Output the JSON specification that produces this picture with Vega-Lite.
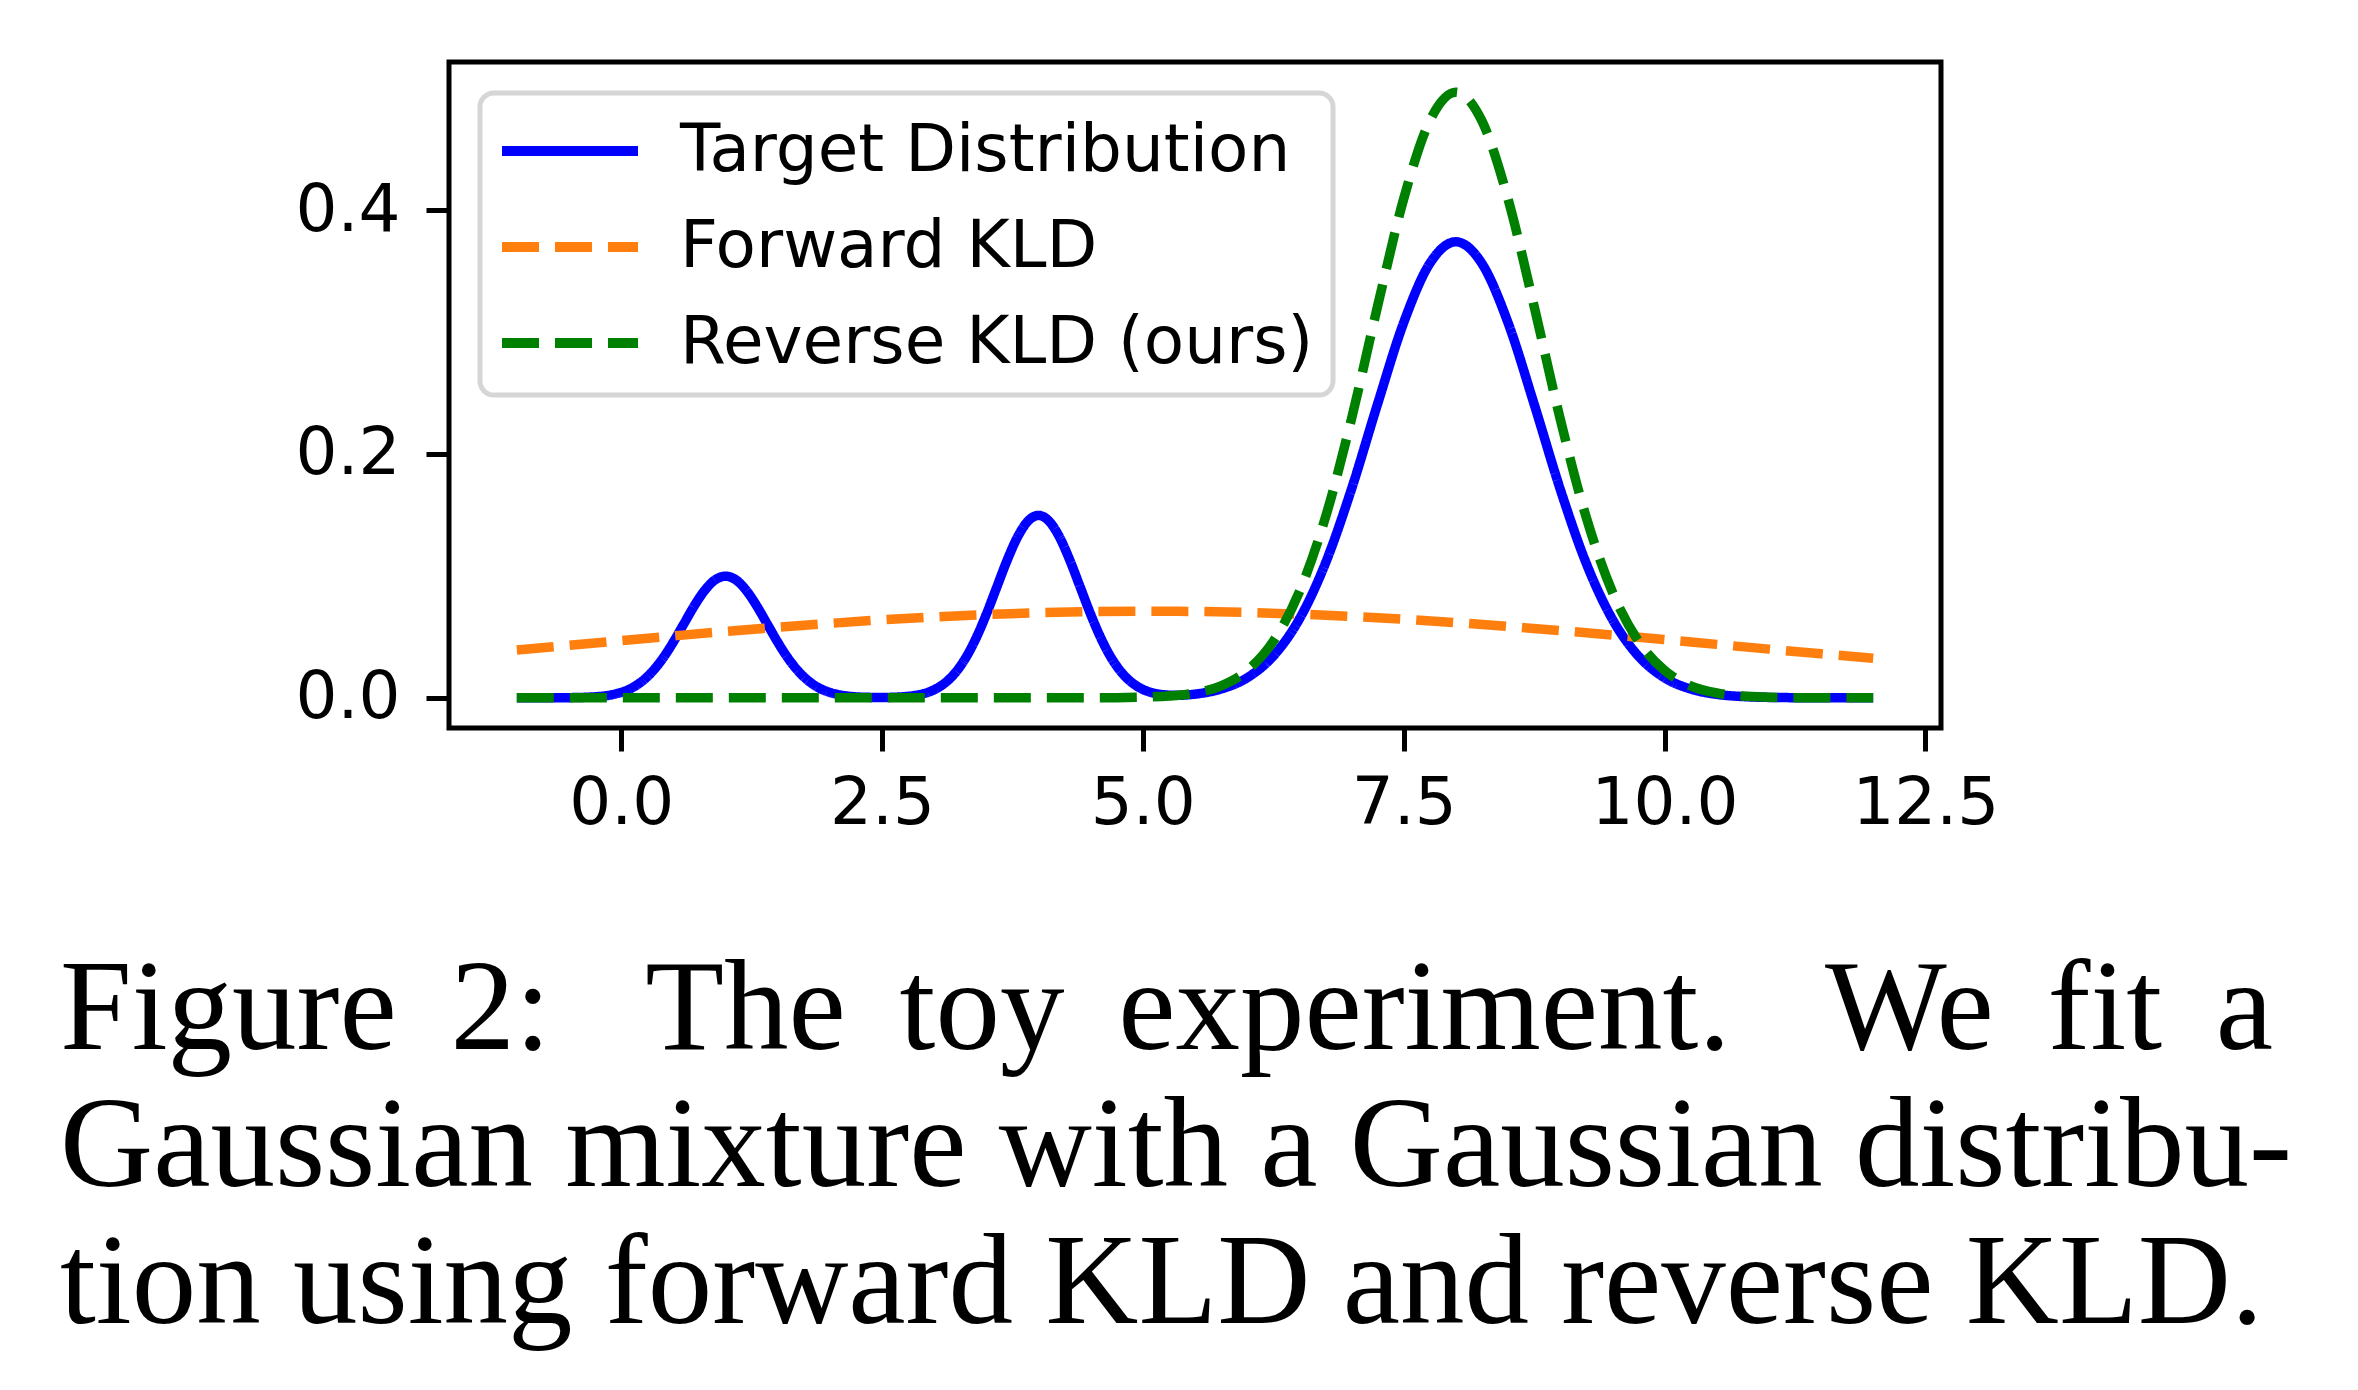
{
  "$schema": "https://vega.github.io/schema/vega-lite/v6.json",
  "autosize": {"type": "none"},
  "padding": {"left": 449, "top": 62, "right": 417, "bottom": 662},
  "width": 1492,
  "height": 666,
  "background": "white",
  "title": {
    "text": ["Figure\u2006 2:\u2002 The\u2006 toy\u2006 experiment.\u2002 We\u2006 fit\u2006 a", "Gaussian mixture with a Gaussian distribu-", "tion using forward KLD and reverse KLD."],
    "orient": "bottom",
    "anchor": "start",
    "frame": "group",
    "dx": -389,
    "offset": 111,
    "font": "Liberation Serif",
    "fontSize": 129,
    "fontWeight": "normal",
    "color": "black",
    "lineHeight": 137
  },
  "datasets": {
    "target": [
      {"x": -1, "y": 0}, {"x": -0.5, "y": 0.0001}, {"x": -0.2, "y": 0.0011}, {"x": -0.1, "y": 0.0023},
      {"x": 0, "y": 0.0044}, {"x": 0.1, "y": 0.0079}, {"x": 0.2, "y": 0.0135}, {"x": 0.3, "y": 0.0216},
      {"x": 0.4, "y": 0.0324}, {"x": 0.5, "y": 0.0457}, {"x": 0.6, "y": 0.0605}, {"x": 0.7, "y": 0.0753},
      {"x": 0.8, "y": 0.088}, {"x": 0.9, "y": 0.0967}, {"x": 1.0, "y": 0.0997}, {"x": 1.1, "y": 0.0967},
      {"x": 1.2, "y": 0.088}, {"x": 1.3, "y": 0.0753}, {"x": 1.4, "y": 0.0605}, {"x": 1.5, "y": 0.0457},
      {"x": 1.6, "y": 0.0324}, {"x": 1.7, "y": 0.0216}, {"x": 1.8, "y": 0.0135}, {"x": 1.9, "y": 0.0079},
      {"x": 2.0, "y": 0.0044}, {"x": 2.1, "y": 0.0023}, {"x": 2.2, "y": 0.0011}, {"x": 2.3, "y": 0.0005},
      {"x": 2.4, "y": 0.0003}, {"x": 2.5, "y": 0.0002}, {"x": 2.6, "y": 0.0004}, {"x": 2.7, "y": 0.0008},
      {"x": 2.8, "y": 0.0017}, {"x": 2.9, "y": 0.0034}, {"x": 3.0, "y": 0.0066}, {"x": 3.1, "y": 0.0119},
      {"x": 3.2, "y": 0.0203}, {"x": 3.3, "y": 0.0324}, {"x": 3.4, "y": 0.0486}, {"x": 3.5, "y": 0.0685},
      {"x": 3.6, "y": 0.0907}, {"x": 3.7, "y": 0.1129}, {"x": 3.8, "y": 0.132}, {"x": 3.9, "y": 0.145},
      {"x": 4.0, "y": 0.1496}, {"x": 4.1, "y": 0.145}, {"x": 4.2, "y": 0.132}, {"x": 4.3, "y": 0.1129},
      {"x": 4.4, "y": 0.0907}, {"x": 4.5, "y": 0.0685}, {"x": 4.6, "y": 0.0486}, {"x": 4.7, "y": 0.0324},
      {"x": 4.8, "y": 0.0204}, {"x": 4.9, "y": 0.0121}, {"x": 5.0, "y": 0.0069}, {"x": 5.1, "y": 0.0039},
      {"x": 5.2, "y": 0.0025}, {"x": 5.3, "y": 0.002}, {"x": 5.4, "y": 0.0022}, {"x": 5.5, "y": 0.003},
      {"x": 5.6, "y": 0.0042}, {"x": 5.75, "y": 0.0072}, {"x": 6.0, "y": 0.0164}, {"x": 6.25, "y": 0.0342},
      {"x": 6.5, "y": 0.0645}, {"x": 6.75, "y": 0.1103}, {"x": 7.0, "y": 0.1712}, {"x": 7.25, "y": 0.241},
      {"x": 7.5, "y": 0.3077}, {"x": 7.75, "y": 0.3562}, {"x": 8.0, "y": 0.374}, {"x": 8.25, "y": 0.3562},
      {"x": 8.5, "y": 0.3077}, {"x": 8.75, "y": 0.241}, {"x": 9.0, "y": 0.1712}, {"x": 9.25, "y": 0.1103},
      {"x": 9.5, "y": 0.0645}, {"x": 9.75, "y": 0.0342}, {"x": 10.0, "y": 0.0164}, {"x": 10.25, "y": 0.0072},
      {"x": 10.5, "y": 0.0028}, {"x": 10.75, "y": 0.001}, {"x": 11.0, "y": 0.0003}, {"x": 11.5, "y": 0.0},
      {"x": 12.0, "y": 0}
    ],
    "forward": [
      {"x": -1, "y": 0.0392}, {"x": -0.5, "y": 0.043}, {"x": 0, "y": 0.0469}, {"x": 0.5, "y": 0.0507},
      {"x": 1, "y": 0.0544}, {"x": 1.5, "y": 0.0578}, {"x": 2, "y": 0.061}, {"x": 2.5, "y": 0.0639},
      {"x": 3, "y": 0.0663}, {"x": 3.5, "y": 0.0683}, {"x": 4, "y": 0.0697}, {"x": 4.5, "y": 0.0707},
      {"x": 5, "y": 0.071}, {"x": 5.5, "y": 0.0708}, {"x": 6, "y": 0.07}, {"x": 6.5, "y": 0.0686},
      {"x": 7, "y": 0.0667}, {"x": 7.5, "y": 0.0644}, {"x": 8, "y": 0.0616}, {"x": 8.5, "y": 0.0585},
      {"x": 9, "y": 0.0551}, {"x": 9.5, "y": 0.0515}, {"x": 10, "y": 0.0477}, {"x": 10.5, "y": 0.0438},
      {"x": 11, "y": 0.0399}, {"x": 11.5, "y": 0.0361}, {"x": 12, "y": 0.0324}
    ],
    "reverse": [
      {"x": -1, "y": 0}, {"x": 4.5, "y": 0}, {"x": 4.75, "y": 0.0001}, {"x": 5, "y": 0.0005},
      {"x": 5.25, "y": 0.0014}, {"x": 5.5, "y": 0.0039}, {"x": 5.75, "y": 0.0098}, {"x": 6, "y": 0.0224},
      {"x": 6.25, "y": 0.0463}, {"x": 6.5, "y": 0.0868}, {"x": 6.75, "y": 0.1479}, {"x": 7, "y": 0.2288},
      {"x": 7.25, "y": 0.3212}, {"x": 7.5, "y": 0.4092}, {"x": 7.75, "y": 0.4732}, {"x": 8, "y": 0.4967},
      {"x": 8.25, "y": 0.4732}, {"x": 8.5, "y": 0.4092}, {"x": 8.75, "y": 0.3212}, {"x": 9, "y": 0.2288},
      {"x": 9.25, "y": 0.1479}, {"x": 9.5, "y": 0.0868}, {"x": 9.75, "y": 0.0463}, {"x": 10, "y": 0.0224},
      {"x": 10.25, "y": 0.0098}, {"x": 10.5, "y": 0.0039}, {"x": 10.75, "y": 0.0014}, {"x": 11, "y": 0.0005},
      {"x": 11.25, "y": 0.0001}, {"x": 11.5, "y": 0}, {"x": 12, "y": 0}
    ]
  },
  "encoding": {
    "x": {
      "field": "x", "type": "quantitative",
      "scale": {"domain": [-1.65, 12.65], "nice": false, "zero": false},
      "axis": {"values": [0, 2.5, 5, 7.5, 10, 12.5], "format": ".1f", "title": null, "labelPadding": 20, "labelFlush": false, "labelOverlap": false}
    },
    "y": {
      "field": "y", "type": "quantitative",
      "scale": {"domain": [-0.0248, 0.5215], "nice": false, "zero": false},
      "axis": {"values": [0, 0.2, 0.4], "format": ".1f", "title": null, "labelPadding": 26, "labelFlush": false, "labelOverlap": false}
    },
    "color": {
      "type": "nominal",
      "scale": {"domain": ["Target Distribution", "Forward KLD", "Reverse KLD (ours)"], "range": ["#0000ff", "#ff7f0e", "#008000"]},
      "legend": {"title": null}
    },
    "strokeDash": {
      "type": "nominal",
      "scale": {"domain": ["Target Distribution", "Forward KLD", "Reverse KLD (ours)"], "range": [[1, 0], [37, 16], [37, 16]]},
      "legend": {"title": null}
    }
  },
  "layer": [
    {
      "data": {"name": "target"},
      "mark": {"type": "line", "strokeWidth": 9.5, "strokeCap": "butt", "interpolate": "monotone"},
      "encoding": {"color": {"datum": "Target Distribution"}, "strokeDash": {"datum": "Target Distribution"}}
    },
    {
      "data": {"name": "forward"},
      "mark": {"type": "line", "strokeWidth": 9.5, "strokeCap": "butt", "interpolate": "monotone"},
      "encoding": {"color": {"datum": "Forward KLD"}, "strokeDash": {"datum": "Forward KLD"}}
    },
    {
      "data": {"name": "reverse"},
      "mark": {"type": "line", "strokeWidth": 9.5, "strokeCap": "butt", "interpolate": "monotone"},
      "encoding": {"color": {"datum": "Reverse KLD (ours)"}, "strokeDash": {"datum": "Reverse KLD (ours)"}}
    }
  ],
  "config": {
    "font": "DejaVu Sans",
    "view": {"stroke": "black", "strokeWidth": 5},
    "axis": {
      "domain": false, "grid": false, "ticks": true,
      "tickColor": "black", "tickWidth": 5, "tickSize": 23,
      "labelFont": "DejaVu Sans", "labelFontSize": 66, "labelColor": "black"
    },
    "legend": {
      "orient": "top-left", "offset": 31,
      "labelFont": "DejaVu Sans", "labelFontSize": 66, "labelColor": "black", "labelLimit": 0,
      "symbolType": "M-2,0L2,0", "symbolSize": 4624, "symbolStrokeWidth": 10, "symbolOffset": 32,
      "labelOffset": 71, "rowPadding": 24, "padding": 19,
      "fillColor": "white", "strokeColor": "#d6d6d6", "strokeWidth": 5, "cornerRadius": 14
    }
  }
}
